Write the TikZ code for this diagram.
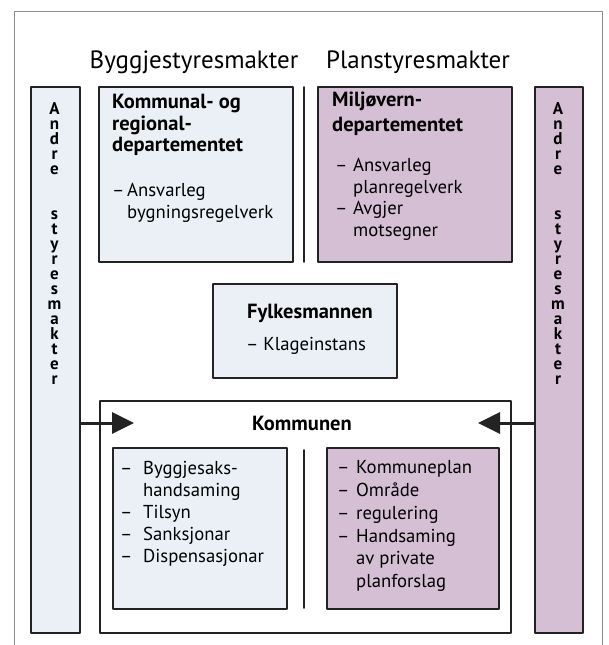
\documentclass[tikz,border=0pt]{standalone}
\usepackage{fontspec}
\setmainfont{PT Sans}
\usetikzlibrary{arrows.meta,positioning}
\definecolor{lysblaa}{RGB}{234,240,246}
\definecolor{lilla}{RGB}{213,191,212}
\definecolor{rammegraa}{RGB}{140,140,140}
\definecolor{strek}{RGB}{35,35,35}
\newcommand{\ldash}[1][15pt]{\makebox[#1][l]{--}}
\newcommand{\lgap}[1][15pt]{\hspace*{#1}}
\newcommand{\andretekst}{A\\n\\d\\r\\e\\[30pt]s\\t\\y\\r\\e\\s\\m\\a\\k\\t\\e\\r}

\begin{document}
\begin{tikzpicture}[line cap=round,line join=round,x=1pt,y=-1pt,
    boks/.style={draw=strek,line width=1.6pt,inner sep=0pt,anchor=north west},
    blaaboks/.style={boks,fill=lysblaa},
    lillaboks/.style={boks,fill=lilla},
    kvitboks/.style={boks,fill=white},
    tekst/.style={inner sep=0pt,anchor=north west,align=left,font=\fontsize{18.7}{21.5}\selectfont},
    tittel/.style={inner sep=0pt,align=left,font=\bfseries\fontsize{20.5}{21.5}\selectfont},
    overskrift/.style={inner sep=0pt,anchor=base,font=\fontsize{25}{28}\selectfont},
    loddrett/.style={inner sep=0pt,anchor=north,align=center,font=\bfseries\fontsize{17}{15}\selectfont},
    skilje/.style={draw=strek,line width=1.6pt},
    pil/.style={draw=strek,line width=3pt,line cap=butt,-{Triangle[length=22pt,width=21pt]}}]
  \useasboundingbox (0,0) rectangle (608,645);
  % ytre ramme, open nede
  \draw[rammegraa,line width=1pt] (14,645) -- (14,11) -- (602,11) -- (602,645);
  % overskrifter
  \node[overskrift] (bygg) at (194,68) {Byggjestyresmakter};
  \node[overskrift] (plan) at (418,68) {Planstyresmakter};
  % andre styresmakter
  \node[blaaboks,minimum width=49,minimum height=546] (andreV) at (30,86) {};
  \node[lillaboks,minimum width=48,minimum height=546] (andreH) at (534,86) {};
  \node[loddrett] (andreVT) at (54.5,102) {\andretekst};
  \node[loddrett] (andreHT) at (558,102) {\andretekst};
  % departementa
  \node[blaaboks,minimum width=194,minimum height=175] (krd) at (98,86) {};
  \node[tittel,anchor=north west] (krdT) at (112,94) {Kommunal- og\\regional-\\departementet};
  \node[tekst] (krdL) at (112,183.5) {\ldash Ansvarleg\\\lgap bygningsregelverk};
  \draw[skilje] (304,87) -- (304,262);
  \node[lillaboks,minimum width=194,minimum height=175] (md) at (317,86) {};
  \node[tittel,anchor=north west,font=\bfseries\fontsize{20.5}{25}\selectfont] (mdT) at (332,92) {Miljøvern-\\departementet};
  \node[tekst] (mdL) at (335,158.5) {\ldash[18pt]Ansvarleg\\\lgap[18pt]planregelverk\\\ldash[18pt]Avgjer\\\lgap[18pt]motsegner};
  % fylkesmannen
  \node[blaaboks,minimum width=184,minimum height=94] (fm) at (212,283) {};
  \node[tittel] (fmT) at (310,313) {Fylkesmannen};
  \node[tekst,anchor=center] (fmL) at (306,346) {-- Klageinstans};
  % kommunen
  \node[kvitboks,minimum width=411,minimum height=232] (kom) at (99,400) {};
  \node[tittel] (komT) at (302,423) {Kommunen};
  \node[blaaboks,minimum width=174,minimum height=161] (byggsak) at (112,447) {};
  \node[tekst,font=\fontsize{18.7}{22}\selectfont] (byggsakL) at (120,461.5) {\ldash[23pt]Byggjesaks-\\\lgap[23pt]handsaming\\\ldash[23pt]Tilsyn\\\ldash[23pt]Sanksjonar\\\ldash[23pt]Dispensasjonar};
  \draw[skilje] (304,450) -- (304,608);
  \node[lillaboks,minimum width=172,minimum height=161] (plansak) at (326,447) {};
  \node[tekst,font=\fontsize{18.7}{22.8}\selectfont] (plansakL) at (337,460.5) {\ldash[19pt]Kommuneplan\\\ldash[19pt]Område\\\ldash[19pt]regulering\\\ldash[19pt]Handsaming\\\lgap[19pt]av private\\\lgap[19pt]planforslag};
  % piler inn i kommunen
  \coordinate (innV) at (134,423);
  \coordinate (innH) at (478,423);
  \draw[pil] (andreV.east |- innV) -- (innV);
  \draw[pil] (andreH.west |- innH) -- (innH);
\end{tikzpicture}
\end{document}
